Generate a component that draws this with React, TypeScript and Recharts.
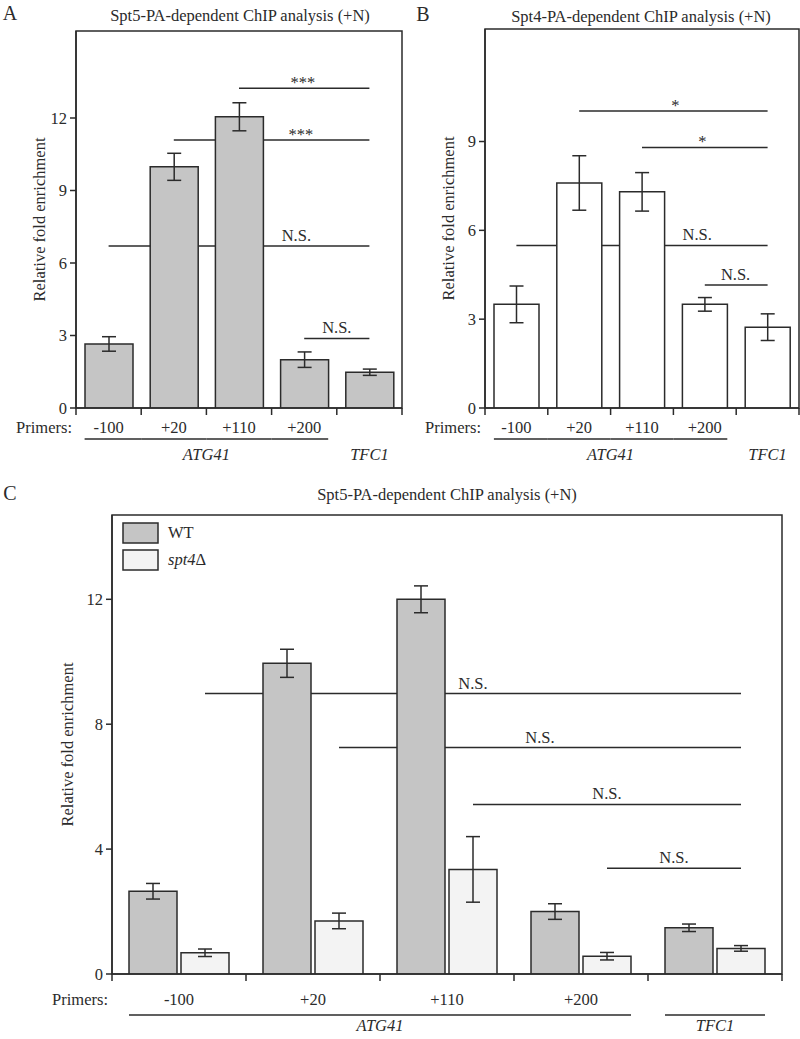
import React from 'react'
import { BarChart, Bar, XAxis, YAxis, ErrorBar, ReferenceLine, ReferenceArea, Legend } from 'recharts'

const SERIF = '"Liberation Serif", "DejaVu Serif", serif'
const INK = '#2b2b2b'
const GRAY = '#c5c5c5'
const LIGHT = '#f3f3f3'
const TICK_LEN = 7

const primers = ['-100', '+20', '+110', '+200', 'TFC1']
const primerLabels = ['-100', '+20', '+110', '+200', '']
const genes = ['ATG41', 'ATG41', 'ATG41', 'ATG41', 'TFC1']

// A: Spt5-PA-dependent ChIP (+N)
const spt5Fold = [2.65, 9.98, 12.05, 2.0, 1.48]
const spt5Err = [0.3, 0.56, 0.58, 0.32, 0.13]

// B: Spt4-PA-dependent ChIP (+N)
const spt4Fold = [3.5, 7.6, 7.3, 3.5, 2.73]
const spt4Err = [0.62, 0.92, 0.65, 0.23, 0.45]

// C: Spt5-PA in WT vs spt4Δ
const wtFold = [2.65, 9.95, 12.0, 2.0, 1.48]
const wtErr = [0.25, 0.45, 0.43, 0.25, 0.12]
const spt4dFold = [0.68, 1.7, 3.35, 0.57, 0.82]
const spt4dErr = [0.12, 0.25, 1.05, 0.12, 0.09]

const ticksA = [0, 3, 6, 9, 12]
const ticksB = [0, 3, 6, 9]
const ticksC = [0, 4, 8, 12]

// significance bars: from/to primer, height in fold units, mark
const sigA = [
  { from: '+110', to: 'TFC1', y: 13.23, mark: '***' },
  { from: '+20', to: 'TFC1', y: 11.09, mark: '***' },
  { from: '-100', to: 'TFC1', y: 6.7, mark: 'N.S.' },
  { from: '+200', to: 'TFC1', y: 2.88, mark: 'N.S.' },
]
const sigB = [
  { from: '+20', to: 'TFC1', y: 10.03, mark: '*' },
  { from: '+110', to: 'TFC1', y: 8.8, mark: '*' },
  { from: '-100', to: 'TFC1', y: 5.49, mark: 'N.S.' },
  { from: '+200', to: 'TFC1', y: 4.15, mark: 'N.S.' },
]
const sigC = [
  { from: '-100', to: 'TFC1', y: 8.98, mark: 'N.S.' },
  { from: '+20', to: 'TFC1', y: 7.25, mark: 'N.S.' },
  { from: '+110', to: 'TFC1', y: 5.43, mark: 'N.S.' },
  { from: '+200', to: 'TFC1', y: 3.39, mark: 'N.S.' },
]
// where the mark sits along each line (0..1)
const markAtA = [0.49, 0.65, 0.72, 0.5]
const markAtB = [0.51, 0.48, 0.72, 0.49]

const dataA = primers.map((p, i) => ({ primer: p, fold: spt5Fold[i], err: spt5Err[i] }))
const dataB = primers.map((p, i) => ({ primer: p, fold: spt4Fold[i], err: spt4Err[i] }))
const dataC = primers.map((p, i) => ({
  primer: p,
  wt: wtFold[i],
  wtErr: wtErr[i],
  spt4d: spt4dFold[i],
  spt4dErr: spt4dErr[i],
}))

const sigShape = (mark: string, at: number, dx = 0) => (p: any) => {
  const x1 = p.x1 + dx
  const x2 = p.x2 + dx
  // asterisks sit high in the font, so they need a lower baseline than N.S.
  const lift = mark.startsWith('*') ? 0 : 5
  return (
    <g>
      <line x1={x1} y1={p.y1} x2={x2} y2={p.y2} stroke={INK} strokeWidth={1.5} />
      <text x={x1 + (x2 - x1) * at} y={p.y1 - lift} textAnchor="middle" fontSize={16.5} fontFamily={SERIF} fill={INK}>
        {mark}
      </text>
    </g>
  )
}

function PrimerTick(props: any) {
  const { x, y, index, band, ext, labelDy, lineDy, geneDy, tfcLine } = props
  const half = band / 2
  const y0 = y - TICK_LEN
  const n = primers.length
  const gene = genes[index]
  const first = index === 0 || genes[index - 1] !== gene
  const last = index === n - 1 || genes[index + 1] !== gene
  const underline = gene === 'ATG41' || tfcLine
  const count = genes.filter((g) => g === gene).length
  const txt = { fontFamily: SERIF, fontSize: 16.5, fill: INK }
  return (
    <g>
      <line x1={x - half} y1={y0} x2={x - half} y2={y0 + TICK_LEN} stroke={INK} strokeWidth={1.5} />
      {last && index === n - 1 && (
        <line x1={x + half} y1={y0} x2={x + half} y2={y0 + TICK_LEN} stroke={INK} strokeWidth={1.5} />
      )}
      <text x={x} y={y0 + labelDy} textAnchor="middle" {...txt}>
        {primerLabels[index]}
      </text>
      {index === 0 && (
        <text x={x - half - 4} y={y0 + labelDy} textAnchor="end" {...txt}>
          Primers:
        </text>
      )}
      {underline && (
        <line
          x1={first ? x - ext : x - half}
          y1={y0 + lineDy}
          x2={last ? x + ext : x + half}
          y2={y0 + lineDy}
          stroke={INK}
          strokeWidth={1.3}
        />
      )}
      {first && (
        <text x={x + (count - 1) * half} y={y0 + geneDy} textAnchor="middle" fontStyle="italic" {...txt}>
          {gene}
        </text>
      )}
    </g>
  )
}

function YTitle(props: any) {
  const vb = props.viewBox || { x: 0, y: 0, width: 0, height: 0 }
  const cx = vb.x + props.cx
  const cy = vb.y + vb.height / 2
  return (
    <text
      x={cx}
      y={cy}
      transform={`rotate(-90 ${cx} ${cy})`}
      textAnchor="middle"
      dominantBaseline="central"
      fontFamily={SERIF}
      fontSize={16.5}
      fill={INK}
    >
      Relative fold enrichment
    </text>
  )
}

function Caption({ x, y, size = 16.5, children }: any) {
  return (
    <div
      style={{
        position: 'absolute',
        left: x,
        top: y,
        transform: 'translate(-50%, -50%)',
        whiteSpace: 'nowrap',
        fontFamily: SERIF,
        fontSize: size,
        color: INK,
        lineHeight: 1,
      }}
    >
      {children}
    </div>
  )
}

function LegendC(props: any) {
  const items = props.payload || []
  return (
    <div>
      {items.map((it: any, i: number) => (
        <div key={i} style={{ display: 'flex', alignItems: 'center', height: 27 }}>
          <svg width={38} height={22}>
            <rect x={1} y={1} width={35} height={20} fill={it.color} stroke={INK} strokeWidth={1.5} />
          </svg>
          <span style={{ fontFamily: SERIF, fontSize: 16.5, color: INK, marginLeft: 8 }}>
            {it.value === 'WT' ? 'WT' : <><i>spt4</i>Δ</>}
          </span>
        </div>
      ))}
    </div>
  )
}

const axisLine = { stroke: INK, strokeWidth: 1.5 }
const yTick = { fontFamily: SERIF, fontSize: 16.5, fill: INK }

function SinglePanel({ data, sig, markAt, fill, max, ticks, top, width, right, barSize, ext }: any) {
  const plotW = width - 76 - right
  return (
    <BarChart
      width={width}
      height={480}
      data={data}
      margin={{ top, right, bottom: 12, left: 0 }}
      style={{ fontFamily: SERIF }}
    >
      <XAxis
        dataKey="primer"
        interval={0}
        height={60}
        tickSize={TICK_LEN}
        tickMargin={0}
        tickLine={false}
        axisLine={axisLine}
        tick={<PrimerTick band={plotW / 5} ext={ext} labelDy={25} lineDy={31} geneDy={52} tfcLine={false} />}
      />
      <YAxis
        type="number"
        domain={[0, max]}
        ticks={ticks}
        allowDataOverflow
        width={76}
        tickSize={6}
        tickMargin={3}
        axisLine={axisLine}
        tickLine={axisLine}
        tick={yTick}
        label={<YTitle cx={39} />}
      />
      <ReferenceArea y1={0} y2={max} fill="none" stroke={INK} strokeWidth={1.5} fillOpacity={0} />
      {sig.map((s: any, i: number) => (
        <ReferenceLine
          key={i}
          zIndex={250}
          segment={[
            { x: s.from, y: s.y },
            { x: s.to, y: s.y },
          ]}
          shape={sigShape(s.mark, markAt[i])}
        />
      ))}
      <Bar dataKey="fold" fill={fill} stroke={INK} strokeWidth={1.5} barSize={barSize} isAnimationActive={false}>
        <ErrorBar dataKey="err" width={7} stroke={INK} strokeWidth={1.5} />
      </Bar>
    </BarChart>
  )
}

export default function App() {
  const plotWC = 800 - 112 - 18
  return (
    <div style={{ position: 'absolute', left: 0, top: 0, width: 800, height: 1039, background: '#fff', overflow: 'hidden' }}>
      <Caption x={10} y={13} size={20}>A</Caption>
      <Caption x={423} y={14} size={20}>B</Caption>
      <Caption x={10} y={493} size={20}>C</Caption>
      <Caption x={240} y={16}>Spt5-PA-dependent ChIP analysis (+N)</Caption>
      <Caption x={641} y={17}>Spt4-PA-dependent ChIP analysis (+N)</Caption>
      <Caption x={447} y={495}>Spt5-PA-dependent ChIP analysis (+N)</Caption>

      <div style={{ position: 'absolute', left: 0, top: 0 }}>
        <SinglePanel data={dataA} sig={sigA} markAt={markAtA} fill={GRAY} max={15.6} ticks={ticksA} top={31} width={410} right={8} barSize={48} ext={24} />
      </div>
      <div style={{ position: 'absolute', left: 409, top: 0 }}>
        <SinglePanel data={dataB} sig={sigB} markAt={markAtB} fill="#fff" max={12.8} ticks={ticksB} top={29} width={391} right={1} barSize={45} ext={22.5} />
      </div>

      <div style={{ position: 'absolute', left: 0, top: 470 }}>
        <BarChart
          width={800}
          height={569}
          data={dataC}
          margin={{ top: 45, right: 18, bottom: 5, left: 0 }}
          barGap={4}
          style={{ fontFamily: SERIF }}
        >
          <XAxis
            dataKey="primer"
            interval={0}
            height={60}
            tickSize={TICK_LEN}
            tickMargin={0}
            tickLine={false}
            axisLine={axisLine}
            tick={<PrimerTick band={plotWC / 5} ext={50} labelDy={31} lineDy={41} geneDy={57} tfcLine />}
          />
          <YAxis
            type="number"
            domain={[0, 14.7]}
            ticks={ticksC}
            allowDataOverflow
            width={112}
            tickSize={6}
            tickMargin={3}
            axisLine={axisLine}
            tickLine={axisLine}
            tick={yTick}
            label={<YTitle cx={67} />}
          />
          <ReferenceArea y1={0} y2={14.7} fill="none" stroke={INK} strokeWidth={1.5} fillOpacity={0} />
          {sigC.map((s, i) => (
            <ReferenceLine
              key={i}
              zIndex={250}
              segment={[
                { x: s.from, y: s.y },
                { x: s.to, y: s.y },
              ]}
              shape={sigShape(s.mark, 0.5, 26)}
            />
          ))}
          <Legend
            layout="vertical"
            align="center"
            verticalAlign="middle"
            wrapperStyle={{ left: 122, top: 49, width: 120 }}
            content={<LegendC />}
          />
          <Bar dataKey="wt" name="WT" fill={GRAY} stroke={INK} strokeWidth={1.5} barSize={48} isAnimationActive={false}>
            <ErrorBar dataKey="wtErr" width={7} stroke={INK} strokeWidth={1.5} />
          </Bar>
          <Bar dataKey="spt4d" name="spt4Δ" fill={LIGHT} stroke={INK} strokeWidth={1.5} barSize={48} isAnimationActive={false}>
            <ErrorBar dataKey="spt4dErr" width={7} stroke={INK} strokeWidth={1.5} />
          </Bar>
        </BarChart>
      </div>
    </div>
  )
}
